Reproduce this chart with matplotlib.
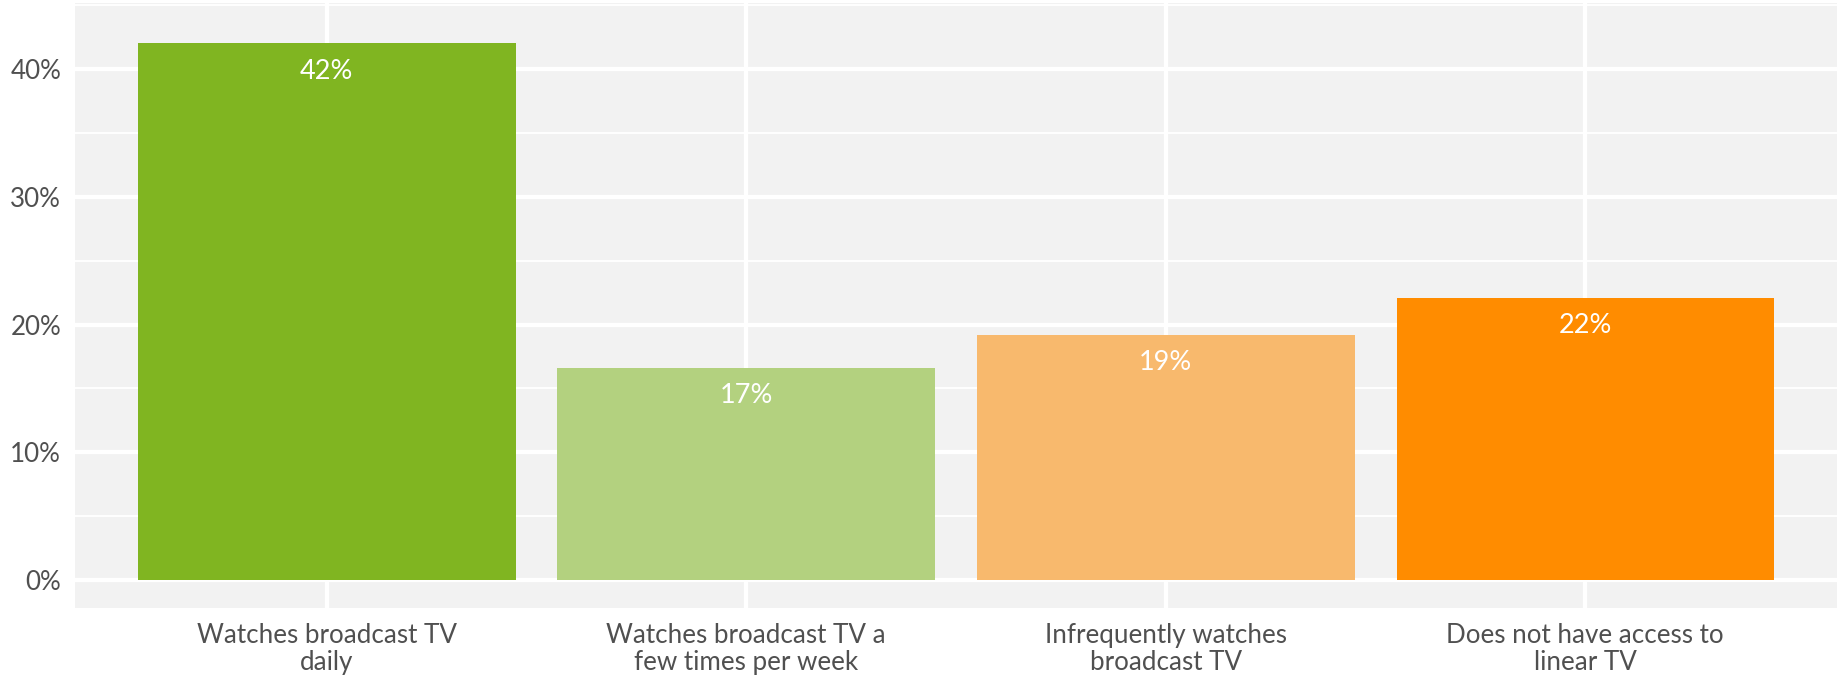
import numpy as np
import matplotlib
matplotlib.use("Agg")
import matplotlib.pyplot as plt
from matplotlib.ticker import MultipleLocator, FuncFormatter

plt.rcParams['font.family'] = ['Lato', 'DejaVu Sans']

# viewing habits, share of respondents (%)
categories = ["Watches broadcast TV\ndaily",
              "Watches broadcast TV a\nfew times per week",
              "Infrequently watches\nbroadcast TV",
              "Does not have access to\nlinear TV"]
shares = [42.0, 16.6, 19.2, 22.1]
bar_colors = ["#80B521", "#B3D17F", "#F8B96D", "#FF8C00"]

fig = plt.figure(figsize=(18.41, 6.76), dpi=100)
W, H = 1841, 676
ax = fig.add_axes([75 / W, (H - 608) / H, (1837 - 75) / W, (608 - 3) / H])

ax.set_facecolor("#F2F2F2")
for s in ax.spines.values():
    s.set_visible(False)

x = np.arange(1, len(categories) + 1)
ax.bar(x, shares, width=0.9, color=bar_colors, zorder=3)

for xi, v in zip(x, shares):
    ax.annotate(f"{v:.0f}%", (xi, v), xytext=(0, -11), textcoords="offset points",
                ha="center", va="top", color="white", fontsize=19.5, zorder=4)

ax.set_xlim(0.4, 4.6)
ax.set_ylim(-2.19, 45.17)
ax.set_xticks(x)
ax.set_xticklabels(categories, fontsize=18.7, color="#505050", linespacing=1.1)
ax.yaxis.set_major_locator(MultipleLocator(10))
ax.yaxis.set_minor_locator(MultipleLocator(5))
ax.yaxis.set_major_formatter(FuncFormatter(lambda v, p: f"{v:.0f}%"))
ax.tick_params(axis="y", labelsize=18.7, labelcolor="#505050", length=0, pad=10, which="both")
ax.tick_params(axis="x", length=0, pad=11)

ax.grid(True, which="major", color="white", linewidth=3.0, zorder=1)
ax.grid(True, which="minor", axis="y", color="white", linewidth=1.4, zorder=1)
ax.set_axisbelow(True)

fig.savefig("out.png", dpi=100, facecolor="white")
